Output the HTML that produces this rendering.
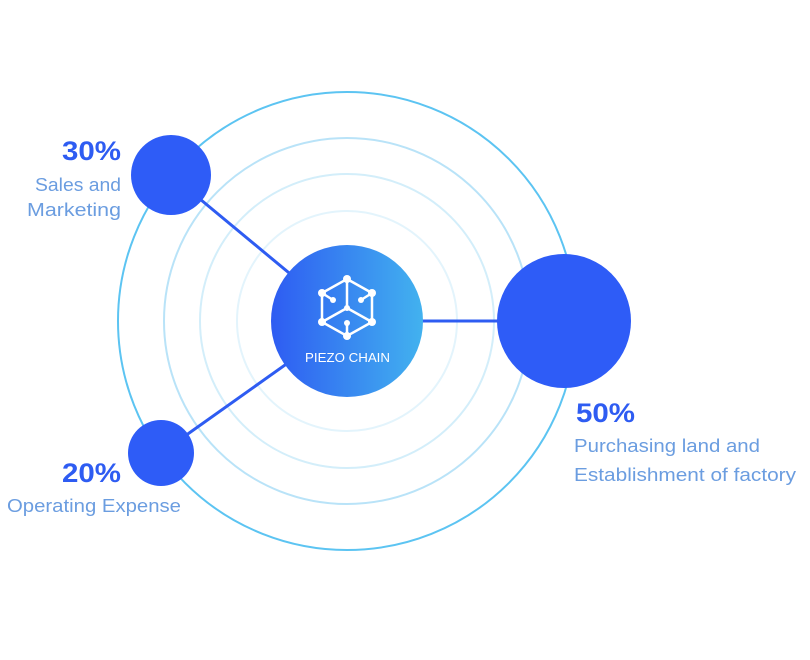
<!DOCTYPE html>
<html><head><style>
html,body{margin:0;padding:0;background:#fff;width:810px;height:660px;overflow:hidden}
svg{display:block}
text{font-family:"Liberation Sans",sans-serif}
</style></head><body>
<svg width="810" height="660" viewBox="0 0 810 660">
<defs>
<linearGradient id="g" x1="0" y1="0" x2="1" y2="0">
<stop offset="0" stop-color="#2e5cf2"/><stop offset="1" stop-color="#42b2ef"/>
</linearGradient>
</defs>
<circle cx="347" cy="321" r="229" fill="none" stroke="#5cc4f2" stroke-width="2"/>
<circle cx="347" cy="321" r="183" fill="none" stroke="#b9e3f8" stroke-width="2"/>
<circle cx="347" cy="321" r="147" fill="none" stroke="#d3eefa" stroke-width="2"/>
<circle cx="347" cy="321" r="110" fill="none" stroke="#e3f4fc" stroke-width="2"/>
<g stroke="#2e5cf2" stroke-width="3">
<line x1="171" y1="175" x2="347" y2="321"/>
<line x1="161" y1="453" x2="347" y2="321"/>
<line x1="347" y1="321" x2="564" y2="321"/>
</g>
<circle cx="347" cy="321" r="76" fill="url(#g)"/>
<circle cx="171" cy="175" r="40" fill="#2e5cf7"/>
<circle cx="161" cy="453" r="33" fill="#2e5cf7"/>
<circle cx="564" cy="321" r="67" fill="#2e5cf7"/>
<g stroke="#fff" stroke-width="2.5" fill="none">
<polygon points="347,279 372,293 372,322 347,336 322,322 322,293"/>
<line x1="347" y1="279" x2="347" y2="308"/>
<line x1="347" y1="308" x2="322" y2="322"/>
<line x1="347" y1="308" x2="372" y2="322"/>
<line x1="322" y1="293" x2="333" y2="300"/>
<line x1="372" y1="293" x2="361" y2="300"/>
<line x1="347" y1="336" x2="347" y2="323"/>
</g>
<g fill="#fff">
<circle cx="347" cy="279" r="4"/><circle cx="372" cy="293" r="4"/><circle cx="372" cy="322" r="4"/>
<circle cx="347" cy="336" r="4"/><circle cx="322" cy="322" r="4"/><circle cx="322" cy="293" r="4"/>
<circle cx="347" cy="308" r="3"/><circle cx="333" cy="300" r="3"/><circle cx="361" cy="300" r="3"/><circle cx="347" cy="323" r="3"/>
</g>
<text x="305" y="362" fill="#fff" font-size="13" textLength="85" lengthAdjust="spacingAndGlyphs">PIEZO CHAIN</text>
<g font-weight="bold" fill="#2e5cf2" font-size="27">
<text x="62" y="160" textLength="59" lengthAdjust="spacingAndGlyphs">30%</text>
<text x="62" y="482" textLength="59" lengthAdjust="spacingAndGlyphs">20%</text>
<text x="576" y="422" textLength="59" lengthAdjust="spacingAndGlyphs">50%</text>
</g>
<g fill="#6b9de0" font-size="18.5">
<text x="35" y="191" textLength="86" lengthAdjust="spacingAndGlyphs">Sales and</text>
<text x="27" y="216" textLength="94" lengthAdjust="spacingAndGlyphs">Marketing</text>
<text x="7" y="512" textLength="174" lengthAdjust="spacingAndGlyphs">Operating Expense</text>
<text x="574" y="452" textLength="186" lengthAdjust="spacingAndGlyphs">Purchasing land and</text>
<text x="574" y="481" textLength="222" lengthAdjust="spacingAndGlyphs">Establishment of factory</text>
</g>
</svg>
</body></html>
